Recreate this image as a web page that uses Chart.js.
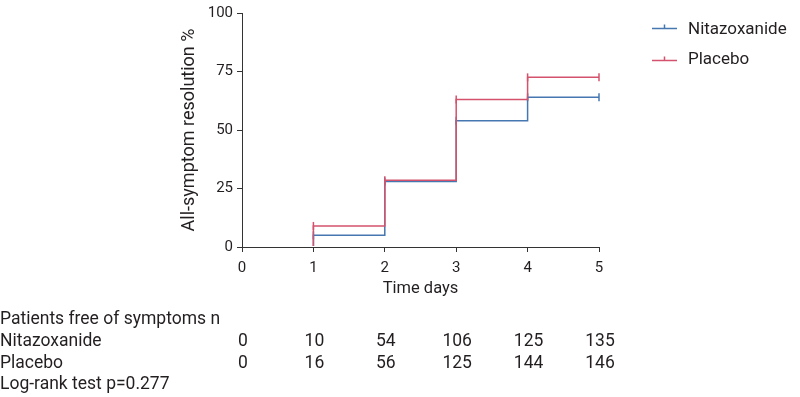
<!DOCTYPE html>
<html>
<head>
<meta charset="utf-8">
<script src="https://cdn.jsdelivr.net/npm/chart.js@4"></script>
<style>
  html, body { margin: 0; padding: 0; background: #fff; }
  #wrap { width: 800px; height: 397px; position: relative; }
</style>
</head>
<body>
<div id="wrap"><canvas id="c" width="800" height="397"></canvas></div>
<script>
// ---- data ----
const days = [0, 1, 2, 3, 4, 5];
const seriesNames = ['Nitazoxanide', 'Placebo'];
const nitazoxanidePct = [0, 5, 28, 54, 64, 64];
const placeboPct = [0, 9, 28.5, 63, 72.5, 72.5];
const yTicks = [0, 25, 50, 75, 100];
const tableTitle = 'Patients free of symptoms n';
const nitazoxanideN = [0, 10, 54, 106, 125, 135];
const placeboN = [0, 16, 56, 125, 144, 146];
const footnote = 'Log-rank test p=0.277';

// ---- styles ----
const BLUE = '#4677b0';
const RED = '#d4526c';
const TEXT = '#231f20';
const AXIS = '#333333';
const FONT = 'Roboto, "Liberation Sans", sans-serif';

function toPts(vals) { return days.map((d, i) => ({ x: d, y: vals[i] })); }
const censorRadius = days.map(d => d === 0 ? 0 : 4);
const lineClip = { left: 2, top: 10, right: 10, bottom: -1 };

const overlay = {
  id: 'overlay',
  afterDatasetsDraw(chart) {
    const ctx = chart.ctx, a = chart.chartArea;
    ctx.save();
    ctx.strokeStyle = AXIS; ctx.lineWidth = 1;
    ctx.beginPath();
    ctx.moveTo(a.left, Math.round(a.bottom) + 0.5);
    ctx.lineTo(a.right, Math.round(a.bottom) + 0.5);
    ctx.stroke();
    ctx.restore();
  },
  afterDraw(chart) {
    const ctx = chart.ctx;
    const xs = chart.scales.x;
    ctx.save();
    ctx.textBaseline = 'alphabetic';
    // legend
    const leg = [[seriesNames[0], BLUE, 28.5, 34], [seriesNames[1], RED, 60.5, 64]];
    leg.forEach(([name, col, y, by]) => {
      ctx.strokeStyle = col;
      ctx.lineWidth = 1.5;
      ctx.beginPath();
      ctx.moveTo(652, y); ctx.lineTo(677, y);
      ctx.moveTo(664.5, y); ctx.lineTo(664.5, y - 4);
      ctx.stroke();
      ctx.fillStyle = TEXT;
      ctx.textAlign = 'left';
      ctx.font = '17px ' + FONT;
      ctx.fillText(name, 688, by);
    });
    // table
    ctx.fillStyle = TEXT;
    ctx.font = '17.5px ' + FONT;
    ctx.textAlign = 'left';
    ctx.fillText(tableTitle, 0, 324);
    ctx.fillText(seriesNames[0], 0, 346);
    ctx.fillText(seriesNames[1], 0, 368);
    ctx.fillText(footnote, 0, 389);
    ctx.textAlign = 'center';
    days.forEach((d, i) => {
      const px = xs.getPixelForValue(d) + 1;
      ctx.fillText(String(nitazoxanideN[i]), px, 346);
      ctx.fillText(String(placeboN[i]), px, 368);
    });
    ctx.restore();
  }
};

new Chart(document.getElementById('c'), {
  type: 'line',
  data: {
    datasets: [
      {
        label: seriesNames[1], data: toPts(placeboPct), borderColor: RED, backgroundColor: RED,
        borderWidth: 1.5, stepped: 'before', pointStyle: 'line', rotation: 90, clip: lineClip,
        pointRadius: censorRadius, pointBorderWidth: 1.5, pointBorderColor: RED, fill: false
      },
      {
        label: seriesNames[0], data: toPts(nitazoxanidePct), borderColor: BLUE, backgroundColor: BLUE,
        borderWidth: 1.5, stepped: 'before', pointStyle: 'line', rotation: 90, clip: lineClip,
        pointRadius: censorRadius, pointBorderWidth: 1.5, pointBorderColor: BLUE, fill: false
      }
    ]
  },
  options: {
    responsive: false,
    animation: false,
    devicePixelRatio: 1,
    layout: { padding: { left: 0, top: 10, right: 201, bottom: 0 } },
    plugins: { legend: { display: false }, tooltip: { enabled: false } },
    scales: {
      x: {
        type: 'linear', min: 0, max: 5,
        afterBuildTicks(s) { s.ticks = days.map(v => ({ value: v })); },
        afterFit(s) { s.height = 150; },
        grid: { drawOnChartArea: false, drawTicks: true, tickLength: 5, color: AXIS, lineWidth: 1 },
        border: { display: true, color: AXIS, width: 1 },
        ticks: { color: TEXT, font: { family: FONT, size: 15 }, padding: 7, maxRotation: 0 },
        title: { display: true, text: 'Time days', color: TEXT, font: { family: FONT, size: 16.5 }, padding: { top: 0, bottom: 98 } }
      },
      y: {
        min: 0, max: 100,
        afterBuildTicks(s) { s.ticks = yTicks.map(v => ({ value: v })); },
        afterFit(s) { s.width = 242; },
        grid: { drawOnChartArea: false, drawTicks: true, tickLength: 5, color: AXIS, lineWidth: 1 },
        border: { display: true, color: AXIS, width: 1 },
        ticks: { color: TEXT, font: { family: FONT, size: 15 }, padding: 4 },
        title: { display: true, text: 'All-symptom resolution %', color: TEXT, font: { family: FONT, size: 18 }, padding: { top: 179, bottom: 0 } }
      }
    }
  },
  plugins: [overlay]
});
</script>
</body>
</html>
